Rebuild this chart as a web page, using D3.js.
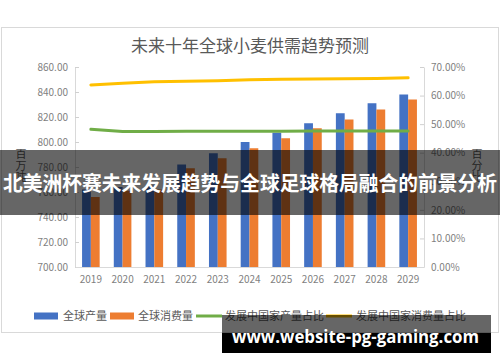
<!DOCTYPE html>
<html>
<head>
<meta charset="utf-8">
<script src="https://cdn.jsdelivr.net/npm/d3@7"></script>
<style>
  html, body { margin: 0; padding: 0; background: #fff; }
  svg { display: block; }
  text { font-family: "Noto Sans CJK SC", "Noto Sans", sans-serif; }
</style>
</head>
<body>
<svg id="chart" width="500" height="362"></svg>
<script>
const years = ['2019','2020','2021','2022','2023','2024','2025','2026','2027','2028','2029'];
const production = [762, 764, 765, 782, 791, 800, 807.5, 815, 823, 831, 838];
const consumption = [756, 761, 762, 779, 787, 795, 803, 811, 818, 826, 834];
const devProdShare = [0.482, 0.474, 0.474, 0.475, 0.475, 0.475, 0.475, 0.476, 0.476, 0.476, 0.476];
const devConsShare = [0.637, 0.643, 0.648, 0.650, 0.652, 0.655, 0.657, 0.658, 0.659, 0.660, 0.662];
const leftTicks = [700, 720, 740, 760, 780, 800, 820, 840, 860];
const rightTicks = [0, 0.1, 0.2, 0.3, 0.4, 0.5, 0.6, 0.7];
const title = '未来十年全球小麦供需趋势预测';
const seriesNames = ['全球产量', '全球消费量', '发展中国家产量占比', '发展中国家消费量占比'];
const leftTitle = '百万吨';
const rightTitle = '百分比';
const bannerText = '北美洲杯赛未来发展趋势与全球足球格局融合的前景分析';
const watermark = 'www.website-pg-gaming.com';

const colors = ['#4472C4', '#ED7D31', '#70AD47', '#FFC000'];
const svg = d3.select('#chart');

// frame
svg.append('rect').attr('x', 1.5).attr('y', 27.5).attr('width', 497).attr('height', 305)
  .attr('fill', '#fff').attr('stroke', '#d9d9d9').attr('stroke-width', 1);

// title
svg.append('text').attr('x', 250).attr('y', 52).attr('text-anchor', 'middle')
  .attr('font-size', 17).attr('fill', '#595959').text(title);

const x = d3.scaleBand().domain(years).range([75, 424]);
const yL = d3.scaleLinear().domain([700, 860]).range([267, 67]);
const yR = d3.scaleLinear().domain([0, 0.7]).range([267, 67]);
const bw = 8.8;
const cx = d => x(d) + x.bandwidth() / 2;

// axes
const gL = svg.append('g').attr('transform', 'translate(75,0)')
  .call(d3.axisLeft(yL).tickValues(leftTicks).tickSizeInner(-4).tickSizeOuter(0).tickPadding(7)
    .tickFormat(d3.format('.2f')));
const gR = svg.append('g').attr('transform', 'translate(424,0)')
  .call(d3.axisRight(yR).tickValues(rightTicks).tickSizeInner(-4).tickSizeOuter(0).tickPadding(7)
    .tickFormat(d3.format('.2%')));
const gB = svg.append('g').attr('transform', 'translate(0,267)')
  .call(d3.axisBottom(x).tickSize(0).tickPadding(9));
[gL, gR, gB].forEach(g => {
  g.selectAll('.domain').attr('stroke', '#d9d9d9');
  g.selectAll('.tick line').attr('stroke', '#d0d0d0');
  g.selectAll('.tick text').attr('fill', '#7f7f7f').attr('font-size', 10)
    .style('font-family', '"Noto Sans CJK SC", sans-serif');
});

// bars
svg.append('g').selectAll('rect').data(years).join('rect')
  .attr('x', d => cx(d) - bw).attr('width', bw)
  .attr('y', (d, i) => yL(production[i])).attr('height', (d, i) => yL(700) - yL(production[i]))
  .attr('fill', colors[0]);
svg.append('g').selectAll('rect').data(years).join('rect')
  .attr('x', d => cx(d)).attr('width', bw)
  .attr('y', (d, i) => yL(consumption[i])).attr('height', (d, i) => yL(700) - yL(consumption[i]))
  .attr('fill', colors[1]);

// lines
const line = d3.line().x((d, i) => cx(years[i])).y(d => yR(d));
svg.append('path').datum(devProdShare).attr('d', line).attr('fill', 'none')
  .attr('stroke', colors[2]).attr('stroke-width', 3).attr('stroke-linejoin', 'round').attr('stroke-linecap', 'round');
svg.append('path').datum(devConsShare).attr('d', line).attr('fill', 'none')
  .attr('stroke', colors[3]).attr('stroke-width', 3).attr('stroke-linejoin', 'round').attr('stroke-linecap', 'round');

// axis titles (vertical stacked)
function vtitle(str, xc, ytop) {
  const t = svg.append('text').attr('text-anchor', 'middle').attr('font-size', 11).attr('fill', '#595959');
  str.split('').forEach((ch, i) => {
    t.append('tspan').attr('x', xc).attr('y', ytop + i * 11.5).text(ch);
  });
}
vtitle(leftTitle, 21, 158);
vtitle(rightTitle, 477, 158);

// legend
const legY = 316;
const legItems = [
  {type: 'rect', x0: 34, tx: 63},
  {type: 'rect', x0: 110, tx: 138},
  {type: 'line', x0: 196, tx: 225},
  {type: 'line', x0: 326, tx: 356}
];
const lg = svg.append('g');
legItems.forEach((it, i) => {
  if (it.type === 'rect') {
    lg.append('rect').attr('x', it.x0).attr('y', legY - 3.5).attr('width', 24).attr('height', 7).attr('fill', colors[i]);
  } else {
    lg.append('line').attr('x1', it.x0).attr('x2', it.x0 + 26).attr('y1', legY).attr('y2', legY)
      .attr('stroke', colors[i]).attr('stroke-width', 3);
  }
  lg.append('text').attr('x', it.tx).attr('y', legY + 4).attr('font-size', 11).attr('fill', '#595959').text(seriesNames[i]);
});

// banner overlay
svg.append('rect').attr('x', 0).attr('y', 150).attr('width', 500).attr('height', 65).attr('fill', 'rgba(0,0,0,0.6)');
svg.append('text').attr('x', 250).attr('y', 190.5).attr('text-anchor', 'middle')
  .attr('font-size', 20.5).attr('font-weight', 'bold').attr('fill', '#fff')
  .attr('textLength', 494).attr('lengthAdjust', 'spacingAndGlyphs').text(bannerText);

// watermark
svg.append('rect').attr('x', 222).attr('y', 315).attr('width', 269).attr('height', 18).attr('fill', 'rgba(0,0,0,0.6)');
svg.append('rect').attr('x', 222).attr('y', 333).attr('width', 269).attr('height', 20).attr('fill', '#000');
svg.append('text').attr('x', 232).attr('y', 343).attr('font-size', 18).attr('font-weight', 'bold').attr('fill', '#fff')
  .style('font-family', '"Open Sans", "DejaVu Sans", sans-serif')
  .attr('textLength', 247).attr('lengthAdjust', 'spacingAndGlyphs').text(watermark);
</script>
</body>
</html>
